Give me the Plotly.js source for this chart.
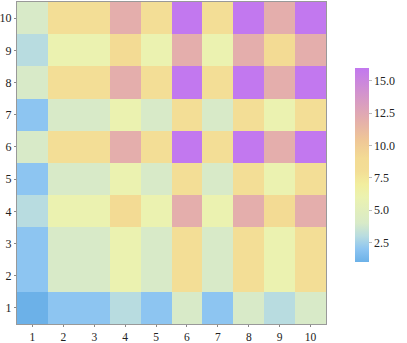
<!DOCTYPE html>
<html><head><meta charset="utf-8">
<script src="https://cdn.plot.ly/plotly-3.0.1.min.js"></script>
<style>html,body{margin:0;padding:0;background:#fff}#c{width:407px;height:343px}</style>
</head><body><div id="c"></div>
<script>
const xCats = [1,2,3,4,5,6,7,8,9,10];
const yCats = [1,2,3,4,5,6,7,8,9,10];
const row1  = [1,2,2,3,2,4,2,4,3,4];
const row2  = [2,4,4,6,4,8,4,8,6,8];
const row3  = [2,4,4,6,4,8,4,8,6,8];
const row4  = [3,6,6,9,6,12,6,12,9,12];
const row5  = [2,4,4,6,4,8,4,8,6,8];
const row6  = [4,8,8,12,8,16,8,16,12,16];
const row7  = [2,4,4,6,4,8,4,8,6,8];
const row8  = [4,8,8,12,8,16,8,16,12,16];
const row9  = [3,6,6,9,6,12,6,12,9,12];
const row10 = [4,8,8,12,8,16,8,16,12,16];
const tickVals = [2.5,5,7.5,10,12.5,15];
const tickText = ["2.5","5.0","7.5","10.0","12.5","15.0"];

const z = [row1,row2,row3,row4,row5,row6,row7,row8,row9,row10];
const font = {family:"'Liberation Serif', 'DejaVu Serif', serif", size:12, color:"#222"};
const xfont = {family:"'Liberation Serif', 'DejaVu Serif', serif", size:11.5, color:"#222"};

const trace = {
  type:"heatmap", x:xCats, y:yCats, z:z, zmin:1, zmax:16,
  colorscale:[
    [0,"#6cb1e8"],[0.0667,"#8dc5f1"],[0.1333,"#b8dce0"],[0.2,"#d8eac8"],
    [0.3333,"#ebf2b0"],[0.4,"#f2ee9e"],[0.4667,"#f3de96"],[0.5333,"#f3db94"],
    [0.63,"#efc697"],[0.7333,"#e4aeac"],[0.85,"#d597c8"],[1,"#c278ef"]
  ],
  hoverinfo:"none",
  colorbar:{
    x:1.06, xanchor:"left", y:0.494, yanchor:"middle",
    len:214, lenmode:"pixels", thickness:14, outlinewidth:0,
    tickvals:tickVals, ticktext:tickText, ticks:"outside", ticklen:3,
    tickcolor:"#bbb", tickfont:font
  }
};

const axisCommon = {
  tickmode:"array", ticks:"outside", ticklen:3, tickcolor:"#888",
  showline:true, linecolor:"#999", linewidth:1, mirror:true,
  showgrid:false, zeroline:false, tickfont:font, fixedrange:true,
  ticklabelstandoff:0
};

const layout = {
  width:407, height:343,
  margin:{l:17, r:69, t:2, b:19},
  paper_bgcolor:"#fff", plot_bgcolor:"#fff",
  xaxis:Object.assign({}, axisCommon, {tickvals:xCats, range:[0.5,10.5], ticklen:2, tickfont:xfont}),
  yaxis:Object.assign({}, axisCommon, {tickvals:yCats, range:[0.5,10.5], ticklen:2}),
  showlegend:false
};

Plotly.newPlot("c", [trace], layout, {displayModeBar:false, staticPlot:true});
</script></body></html>
